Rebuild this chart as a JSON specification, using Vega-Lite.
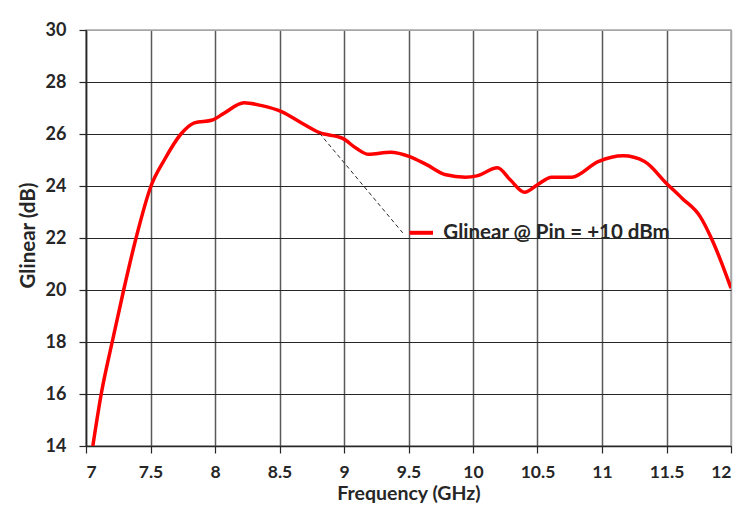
{
  "$schema": "https://vega.github.io/schema/vega-lite/v6.json",
  "width": 645,
  "height": 416,
  "autosize": "none",
  "padding": {"left": 86, "top": 30, "right": 22, "bottom": 67},
  "background": "white",
  "config": {
    "view": {"stroke": "#a6a6a6", "strokeWidth": 1.5},
    "font": "Lato"
  },
  "datasets": {
    "curve": [
      {"f": 7.053, "v": 14},
      {"f": 7.118, "v": 16},
      {"f": 7.203, "v": 18},
      {"f": 7.292, "v": 20},
      {"f": 7.388, "v": 22},
      {"f": 7.504, "v": 24},
      {"f": 7.607, "v": 25},
      {"f": 7.736, "v": 26},
      {"f": 7.84, "v": 26.43},
      {"f": 7.98, "v": 26.54},
      {"f": 8.07, "v": 26.8},
      {"f": 8.225, "v": 27.2},
      {"f": 8.355, "v": 27.1},
      {"f": 8.52, "v": 26.85},
      {"f": 8.655, "v": 26.47},
      {"f": 8.81, "v": 26.05},
      {"f": 8.99, "v": 25.83},
      {"f": 9.095, "v": 25.45},
      {"f": 9.19, "v": 25.22},
      {"f": 9.36, "v": 25.3},
      {"f": 9.51, "v": 25.13},
      {"f": 9.64, "v": 24.82},
      {"f": 9.79, "v": 24.43},
      {"f": 9.94, "v": 24.34},
      {"f": 10.03, "v": 24.39},
      {"f": 10.19, "v": 24.7},
      {"f": 10.29, "v": 24.23},
      {"f": 10.4, "v": 23.76},
      {"f": 10.5, "v": 24.05},
      {"f": 10.61, "v": 24.34},
      {"f": 10.765, "v": 24.34},
      {"f": 10.97, "v": 24.94},
      {"f": 11.165, "v": 25.16},
      {"f": 11.33, "v": 24.94},
      {"f": 11.5, "v": 24.1},
      {"f": 11.62, "v": 23.53},
      {"f": 11.76, "v": 22.83},
      {"f": 11.865, "v": 21.8},
      {"f": 12.0, "v": 20.07}
    ],
    "leader": [{"f": 8.81, "v": 26.03, "f2": 9.455, "v2": 22.2}],
    "swatch": [{"f": 9.508, "f2": 9.69, "v": 22.2}],
    "label": [{"f": 9.77, "v": 22.2, "text": "Glinear @ Pin = +10 dBm"}]
  },
  "layer": [
    {
      "data": {"name": "curve"},
      "mark": {"type": "line", "color": "#ff0000", "strokeWidth": 3.5, "interpolate": "monotone", "clip": true},
      "encoding": {
        "x": {
          "field": "f", "type": "quantitative",
          "scale": {"domain": [7, 12], "nice": false, "zero": false},
          "axis": {
            "title": "Frequency (GHz)",
            "values": [7, 7.5, 8, 8.5, 9, 9.5, 10, 10.5, 11, 11.5, 12],
            "format": "~g",
            "grid": true,
            "gridColor": {"condition": {"test": "datum.value == 12", "value": "#a6a6a6"}, "value": "#5a5a5a"},
            "gridWidth": 1.5,
            "domainColor": "#262626",
            "domainWidth": 1.5,
            "tickColor": "#262626",
            "tickSize": 7,
            "tickWidth": 1.2,
            "labelFont": "Lato",
            "labelFontWeight": "bold",
            "labelFontSize": 17.5,
            "labelColor": "#262626",
            "labelPadding": 10,
            "titleFont": "Lato",
            "titleFontWeight": "bold",
            "titleFontSize": 19.5,
            "titleColor": "#262626",
            "titleBaseline": "alphabetic",
            "titleY": 53
          }
        },
        "y": {
          "field": "v", "type": "quantitative",
          "scale": {"domain": [14, 30], "nice": false, "zero": false},
          "axis": {
            "title": "Glinear (dB)",
            "values": [14, 16, 18, 20, 22, 24, 26, 28, 30],
            "grid": true,
            "gridColor": {"condition": {"test": "datum.value == 30", "value": "#a6a6a6"}, "value": "#262626"},
            "gridWidth": 1.2,
            "domainColor": "#262626",
            "domainWidth": 1.5,
            "tickColor": "#262626",
            "tickSize": 7,
            "tickWidth": 1.2,
            "labelFont": "Lato",
            "labelFontWeight": "bold",
            "labelFontSize": 18,
            "labelColor": "#262626",
            "labelPadding": 13,
            "titleFont": "Lato",
            "titleFontWeight": "bold",
            "titleFontSize": 20.5,
            "titleColor": "#262626",
            "titleBaseline": "middle",
            "titleX": -58,
            "titleY": 205
          }
        }
      }
    },
    {
      "data": {"name": "leader"},
      "mark": {"type": "rule", "color": "#262626", "strokeWidth": 1, "strokeDash": [4, 3]},
      "encoding": {
        "x": {"field": "f", "type": "quantitative"},
        "y": {"field": "v", "type": "quantitative"},
        "x2": {"field": "f2"},
        "y2": {"field": "v2"}
      }
    },
    {
      "data": {"name": "swatch"},
      "mark": {"type": "rule", "color": "#ff0000", "strokeWidth": 4},
      "encoding": {
        "x": {"field": "f", "type": "quantitative"},
        "x2": {"field": "f2"},
        "y": {"field": "v", "type": "quantitative"}
      }
    },
    {
      "data": {"name": "label"},
      "mark": {"type": "text", "align": "left", "baseline": "middle", "font": "Lato", "fontWeight": "bold", "fontSize": 20.5, "color": "#262626"},
      "encoding": {
        "x": {"field": "f", "type": "quantitative"},
        "y": {"field": "v", "type": "quantitative"},
        "text": {"field": "text"}
      }
    }
  ]
}
